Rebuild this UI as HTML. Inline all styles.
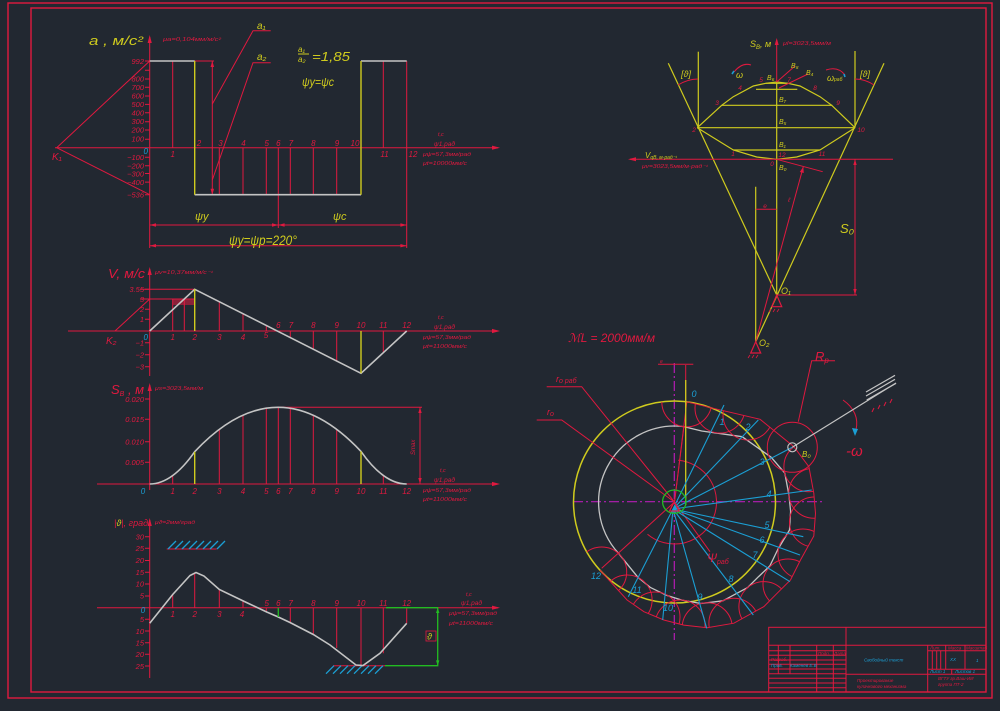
<!DOCTYPE html>
<html><head><meta charset="utf-8">
<style>
html,body{margin:0;padding:0;background:#222831;}
svg{display:block;}
text{font-family:"Liberation Sans",sans-serif;font-style:italic;}
</style></head><body>
<svg width="1000" height="711" viewBox="0 0 1000 711" xmlns="http://www.w3.org/2000/svg">
<defs>
<clipPath id="cp"><path d="M686.8,401.8 L710.7,407.7 760.1,419.3 793.8,446.6 808.9,466.7 813.8,493.2 815.5,513.3 813.8,536 800.5,560 790.5,580 777.2,593.2 763.9,606.6 733.9,623.2 707.2,627.7 683.8,625.1 663.8,620 643.9,611.7 627.1,600 600,570.2 A101,101 0 0 1 686.8,401.8Z"/></clipPath>
</defs>
<rect width="1000" height="711" fill="#222831"/>

<!-- FRAME -->
<g fill="none" stroke="#e0193f" stroke-width="1.4">
<rect x="8" y="3" width="984" height="695"/>
<rect x="31" y="8" width="955" height="684"/>
</g>

<!-- ============ GRAPH 1 : acceleration ============ -->
<g stroke="#e0193f" stroke-width="1" fill="none">
<line x1="55" y1="147.7" x2="498" y2="147.7"/>
<line x1="149.7" y1="37" x2="149.7" y2="248"/>
<path d="M145,61H149.7M145,70.3H149.7M145,79H149.7M145,87.3H149.7M145,96H149.7M145,104.4H149.7M145,112.7H149.7M145,121.7H149.7M145,130H149.7M145,139.3H149.7M145,157.3H149.7M145,165.7H149.7M145,173.5H149.7M145,182.1H149.7M145,194.7H149.7"/>
<path d="M172.7,61V147.7M383.3,61V147.7M406.7,61V248M219.3,147.7V194.7M243,147.7V194.7M266.3,147.7V194.7M290.3,147.7V194.7M313.3,147.7V194.7M336.7,147.7V194.7M278.3,147.7V228"/>
<path d="M194.7,61H214M212.3,61V194.7"/>
<polyline points="270.7,30.7 253,30.7 212.3,104"/>
<polyline points="270.7,62.7 253,62.7 212.3,180"/>
<path d="M56.7,147.7L149.7,61M56.7,147.7L149.7,194.7"/>
<path d="M149.7,225H406.7M149.7,245.7H406.7"/>
</g>
<g fill="#e0193f">
<polygon points="500,147.7 492,145.6 492,149.8"/>
<polygon points="149.7,35 147.6,43 151.8,43"/>
<polygon points="212.3,61 210.5,67 214.1,67"/>
<polygon points="212.3,194.7 210.5,188.7 214.1,188.7"/>
<polygon points="149.7,225 156,223.3 156,226.7"/>
<polygon points="278.3,225 272,223.3 272,226.7"/>
<polygon points="278.3,225 284.6,223.3 284.6,226.7"/>
<polygon points="406.7,225 400.4,223.3 400.4,226.7"/>
<polygon points="149.7,245.7 156,244 156,247.4"/>
<polygon points="406.7,245.7 400.4,244 400.4,247.4"/>
</g>
<g stroke="#c4c4c4" stroke-width="1.6" fill="none">
<path d="M149.7,61H194.7M194.7,194.7H361M361,61H406.7"/>
</g>
<g stroke="#cfcb1e" stroke-width="1.4" fill="none">
<path d="M194.7,61V194.7M361,61V194.7"/>
</g>
<g fill="#e0193f" font-size="7.5" text-anchor="end">
<text x="144" y="64">992</text>
<text x="144" y="81.5">800</text>
<text x="144" y="90">700</text>
<text x="144" y="98.5">600</text>
<text x="144" y="107">500</text>
<text x="144" y="115.5">400</text>
<text x="144" y="124">300</text>
<text x="144" y="132.5">200</text>
<text x="144" y="141.5">100</text>
<text x="144" y="160">−100</text>
<text x="144" y="168.5">−200</text>
<text x="144" y="176.5">−300</text>
<text x="144" y="185">−400</text>
<text x="144" y="197.5">−536</text>
</g>
<g fill="#e0193f" font-size="8" text-anchor="middle">
<text x="172.7" y="157">1</text>
<text x="199" y="146">2</text>
<text x="220.5" y="146">3</text>
<text x="243.5" y="146">4</text>
<text x="266.7" y="146">5</text>
<text x="278.3" y="146">6</text>
<text x="291" y="146">7</text>
<text x="313.3" y="146">8</text>
<text x="337" y="146">9</text>
<text x="355" y="146">10</text>
<text x="384.5" y="157">11</text>
<text x="413" y="157">12</text>
</g>
<text x="145.7" y="154" fill="#1b9fd4" font-size="8" text-anchor="middle">0</text>
<text x="89" y="45" fill="#cfcb1e" font-size="13" textLength="54" lengthAdjust="spacingAndGlyphs">a ,  м/с²</text>
<text x="163" y="41" fill="#e0193f" font-size="5" textLength="58" lengthAdjust="spacingAndGlyphs">μa=0,104мм/м/с²</text>
<text x="257" y="29" fill="#cfcb1e" font-size="10">a₁</text>
<text x="257" y="60" fill="#cfcb1e" font-size="10">a₂</text>
<text x="298" y="52" fill="#cfcb1e" font-size="8">a₁</text>
<line x1="298" y1="54" x2="309" y2="54" stroke="#cfcb1e" stroke-width="1"/>
<text x="298" y="62" fill="#cfcb1e" font-size="8">a₂</text>
<text x="312" y="61" fill="#cfcb1e" font-size="13" textLength="38" lengthAdjust="spacingAndGlyphs">=1,85</text>
<text x="302" y="86" fill="#cfcb1e" font-size="12" textLength="32" lengthAdjust="spacingAndGlyphs">ψу=ψс</text>
<text x="52" y="160" fill="#e0193f" font-size="10">K₁</text>
<text x="195" y="220" fill="#cfcb1e" font-size="11">ψу</text>
<text x="333" y="220" fill="#cfcb1e" font-size="11">ψс</text>
<text x="229" y="245" fill="#cfcb1e" font-size="14" textLength="68" lengthAdjust="spacingAndGlyphs">ψу=ψр=220°</text>
<g fill="#e0193f" font-size="5.5">
<text x="438" y="136">t,c</text>
<text x="434" y="146" font-size="6.5">ψ1,рад</text>
<text x="423" y="156" textLength="48" lengthAdjust="spacingAndGlyphs">μψ=57,3мм/рад</text>
<text x="423" y="165" textLength="44" lengthAdjust="spacingAndGlyphs">μt=10000мм/с</text>
</g>

<!-- ============ GRAPH 2 : velocity ============ -->
<g stroke="#e0193f" stroke-width="1" fill="none">
<line x1="68" y1="331" x2="498" y2="331"/>
<line x1="149.7" y1="269" x2="149.7" y2="376"/>
<path d="M145,289.3H149.7M145,299H149.7M145,309.3H149.7M145,319.3H149.7M145,342.7H149.7M145,354.7H149.7M145,366.7H149.7"/>
<path d="M140,289.3H194.7M140,299H194.7"/>
<path d="M172.7,299V331M184.3,299V331M219.3,331V301.7M243,331V313.7M266.3,331V325.5M290.3,331V337.6M313.3,331V349.2M336.7,331V361M383.3,331V352.7"/>
<line x1="115" y1="331" x2="149.7" y2="299"/>
</g>
<rect x="172.7" y="299" width="22" height="6" fill="#e0193f" opacity="0.55"/>
<g fill="#e0193f">
<polygon points="500,331 492,328.9 492,333.1"/>
<polygon points="149.7,267 147.6,275 151.8,275"/>
</g>
<polyline points="149.7,331 194.7,289.3 361,373.3 406.7,331" fill="none" stroke="#c4c4c4" stroke-width="1.6"/>
<path d="M194.7,289.3V331M361,331V373.3" stroke="#cfcb1e" stroke-width="1.4"/>
<g fill="#e0193f" font-size="7.5" text-anchor="end">
<text x="144" y="292">3.55</text>
<text x="144" y="302">3</text>
<text x="144" y="312">2</text>
<text x="144" y="322">1</text>
<text x="144" y="345.5">−1</text>
<text x="144" y="357.5">−2</text>
<text x="144" y="369.5">−3</text>
</g>
<g fill="#e0193f" font-size="8" text-anchor="middle">
<text x="172.7" y="340">1</text>
<text x="194.7" y="340">2</text>
<text x="219.3" y="340">3</text>
<text x="243" y="340">4</text>
<text x="266" y="338">5</text>
<text x="278.3" y="328">6</text>
<text x="291" y="328">7</text>
<text x="313.3" y="328">8</text>
<text x="336.7" y="328">9</text>
<text x="361" y="328">10</text>
<text x="383.3" y="328">11</text>
<text x="406.7" y="328">12</text>
</g>
<text x="145.7" y="340" fill="#1b9fd4" font-size="8" text-anchor="middle">0</text>
<text x="108" y="278" fill="#e0193f" font-size="13" textLength="37" lengthAdjust="spacingAndGlyphs">V, м/с</text>
<text x="155" y="274" fill="#e0193f" font-size="5" textLength="58" lengthAdjust="spacingAndGlyphs">μv=10,37мм/м/с⁻¹</text>
<text x="106" y="344" fill="#e0193f" font-size="10">K₂</text>
<g fill="#e0193f" font-size="5.5">
<text x="438" y="319">t,c</text>
<text x="434" y="329" font-size="6.5">ψ1,рад</text>
<text x="423" y="339" textLength="48" lengthAdjust="spacingAndGlyphs">μψ=57,3мм/рад</text>
<text x="423" y="348" textLength="44" lengthAdjust="spacingAndGlyphs">μt=11000мм/с</text>
</g>

<!-- ============ GRAPH 3 : displacement ============ -->
<g stroke="#e0193f" stroke-width="1" fill="none">
<line x1="97" y1="484" x2="498" y2="484"/>
<line x1="149.7" y1="385" x2="149.7" y2="490"/>
<path d="M145,399H149.7M145,419.3H149.7M145,441.7H149.7M145,462.3H149.7"/>
<path d="M172.7,484V475.6M219.3,484V429.3M243,484V415.1M266.3,484V408.1M278.3,484V407.3M290.3,484V408.2M313.3,484V415.1M336.7,484V429.6M383.3,484V475.5"/>
<path d="M278.3,407.3H422M420,407.3V484"/>
</g>
<g fill="#e0193f">
<polygon points="500,484 492,481.9 492,486.1"/>
<polygon points="149.7,383 147.6,391 151.8,391"/>
<polygon points="420,407.3 418.3,413 421.7,413"/>
<polygon points="420,484 418.3,478 421.7,478"/>
</g>
<path d="M149.7,484 Q172.2,484 194.7,451.7 Q236.35,407.3 278,407.3 Q319.5,407.3 361,451.4 Q383.85,484 406.7,484" fill="none" stroke="#c4c4c4" stroke-width="1.6"/>
<path d="M194.7,484V451.7M361,484V451.4" stroke="#cfcb1e" stroke-width="1.4"/>
<g fill="#e0193f" font-size="7.5" text-anchor="end">
<text x="144" y="402">0.020</text>
<text x="144" y="422">0.015</text>
<text x="144" y="444.5">0.010</text>
<text x="144" y="465">0.005</text>
</g>
<g fill="#e0193f" font-size="8" text-anchor="middle">
<text x="172.7" y="494">1</text>
<text x="194.7" y="494">2</text>
<text x="219.3" y="494">3</text>
<text x="243" y="494">4</text>
<text x="266.3" y="494">5</text>
<text x="278.3" y="494">6</text>
<text x="290.3" y="494">7</text>
<text x="313.3" y="494">8</text>
<text x="336.7" y="494">9</text>
<text x="361" y="494">10</text>
<text x="383.3" y="494">11</text>
<text x="406.7" y="494">12</text>
</g>
<text x="143" y="494" fill="#1b9fd4" font-size="8" text-anchor="middle">0</text>
<text x="111" y="394" fill="#e0193f" font-size="13">S<tspan font-size="7" dy="2">B</tspan><tspan dy="-2"> , м</tspan></text>
<text x="155" y="390" fill="#e0193f" font-size="5" textLength="48" lengthAdjust="spacingAndGlyphs">μs=3023,5мм/м</text>
<text x="415" y="455" fill="#e0193f" font-size="6" transform="rotate(-90 415 455)">Smax</text>
<g fill="#e0193f" font-size="5.5">
<text x="440" y="472">t,c</text>
<text x="434" y="482" font-size="6.5">ψ1,рад</text>
<text x="423" y="492" textLength="48" lengthAdjust="spacingAndGlyphs">μψ=57,3мм/рад</text>
<text x="423" y="501" textLength="44" lengthAdjust="spacingAndGlyphs">μt=11000мм/с</text>
</g>

<!-- ============ GRAPH 4 : pressure angle ============ -->
<g stroke="#e0193f" stroke-width="1" fill="none">
<line x1="97" y1="607.7" x2="498" y2="607.7"/>
<line x1="149.7" y1="520" x2="149.7" y2="678"/>
<path d="M145,536.7H149.7M145,548.3H149.7M145,560.5H149.7M145,572.3H149.7M145,584H149.7M145,596H149.7M145,619.3H149.7M145,631H149.7M145,642.7H149.7M145,654.3H149.7M145,666H149.7"/>
<path d="M172.7,607.7V594.5M194.7,607.7V572.7M219.3,607.7V589.5M243,607.7V601M266.3,607.7V612M290.3,607.7V622.5M313.3,607.7V634.5M336.7,607.7V648M361,607.7V665.7M383.3,607.7V653.3M406.7,607.7V623.3"/>
<path d="M166.7,549H216.7M333,665.7H385"/>
</g>
<g stroke="#1b9fd4" stroke-width="1.3">
<path d="M168,549l8,-8M175,549l8,-8M182,549l8,-8M189,549l8,-8M196,549l8,-8M203,549l8,-8M210,549l8,-8M217,549l8,-8"/>
<path d="M334,665.7l-8,8M341,665.7l-8,8M348,665.7l-8,8M355,665.7l-8,8M362,665.7l-8,8M369,665.7l-8,8M376,665.7l-8,8M383,665.7l-8,8"/>
</g>
<g fill="#e0193f">
<polygon points="500,607.7 492,605.6 492,609.8"/>
<polygon points="149.7,518 147.6,526 151.8,526"/>
</g>
<polyline points="149.7,623.3 172.7,594.5 190,575.5 196,572.5 204,576 219.3,589.5 243.3,601 266.7,612 278.3,617 290,622.5 313.3,634.5 330,645 356,665 363,665.5 380,653.3 406.7,623.3" fill="none" stroke="#c4c4c4" stroke-width="1.6"/>
<g stroke="#22bb22" stroke-width="1.3" fill="none">
<path d="M278.3,607.7V617M386,607.7H437.7V665.7H385"/>
</g>
<g fill="#22bb22">
<polygon points="437.7,607.7 436,613 439.4,613"/>
<polygon points="437.7,665.7 436,660.4 439.4,660.4"/>
</g>
<rect x="426" y="631" width="10" height="10" fill="none" stroke="#e0193f" stroke-width="0.8"/>
<text x="427" y="639.5" fill="#cfcb1e" font-size="9">ϑ</text>
<g fill="#e0193f" font-size="7.5" text-anchor="end">
<text x="144" y="539.5">30</text>
<text x="144" y="551">25</text>
<text x="144" y="563">20</text>
<text x="144" y="575">15</text>
<text x="144" y="586.5">10</text>
<text x="144" y="598.5">5</text>
<text x="144" y="622">5</text>
<text x="144" y="634">10</text>
<text x="144" y="645.5">15</text>
<text x="144" y="657">20</text>
<text x="144" y="669">25</text>
</g>
<text x="143" y="613" fill="#1b9fd4" font-size="8" text-anchor="middle">0</text>
<g fill="#e0193f" font-size="8" text-anchor="middle">
<text x="172.7" y="617">1</text>
<text x="194.7" y="617">2</text>
<text x="219.3" y="617">3</text>
<text x="242" y="617">4</text>
<text x="266.7" y="606">5</text>
<text x="278.3" y="606">6</text>
<text x="290.7" y="606">7</text>
<text x="313.3" y="606">8</text>
<text x="336.7" y="606">9</text>
<text x="361" y="606">10</text>
<text x="383.3" y="606">11</text>
<text x="406.7" y="606">12</text>
</g>
<text x="114" y="526" fill="#e0193f" font-size="9">|<tspan fill="#cfcb1e">ϑ</tspan>|, град</text>
<text x="155" y="524" fill="#e0193f" font-size="5" textLength="40" lengthAdjust="spacingAndGlyphs">μϑ=2мм/град</text>
<g fill="#e0193f" font-size="5.5">
<text x="466" y="596">t,c</text>
<text x="461" y="605" font-size="6.5">ψ1,рад</text>
<text x="449" y="615" textLength="48" lengthAdjust="spacingAndGlyphs">μψ=57,3мм/рад</text>
<text x="449" y="625" textLength="44" lengthAdjust="spacingAndGlyphs">μt=11000мм/с</text>
</g>

<!-- ============ MECHANISM (top right) ============ -->
<g stroke="#cfcb1e" stroke-width="1.2" fill="none">
<line x1="776.7" y1="82" x2="776.7" y2="295"/>
<line x1="668.3" y1="63.3" x2="776.7" y2="295"/>
<line x1="884" y1="63.3" x2="755.7" y2="341.7"/>
<line x1="698.3" y1="51.7" x2="698.3" y2="127.7"/>
<line x1="855" y1="51" x2="855" y2="127.7"/>
<line x1="755.7" y1="186.7" x2="755.7" y2="341.7"/>
<path d="M697.3,127.7H855M721.7,105.3H832.3M733.3,150H820M756,89.3H797.3M765.7,83.3H787.7"/>
<polyline points="697.3,127.7 721.7,105.3 733.3,96.7 753.3,86 765.7,83.3 776.7,82 788,83.3 800,86 820,96.7 831.7,105.3 855,127.7"/>
<polyline points="697.3,127.7 733.3,150 756.7,157 776.7,159.3 796.7,157 820,150 855,127.7"/>
</g>
<g stroke="#e0193f" stroke-width="1" fill="none">
<line x1="776.7" y1="40" x2="776.7" y2="82"/>
<line x1="630" y1="159.3" x2="893" y2="159.3"/>
<path d="M776.7,295H857M855,159.3V295"/>
<line x1="755.7" y1="341.7" x2="803.3" y2="166.7"/>
<line x1="776.7" y1="159.3" x2="822.7" y2="171.7"/>
<path d="M755.7,209.3H776.7"/>
<path d="M776.7,82L795,66M779,88L808,74"/>
<path d="M678,85Q688,79 698,79M855,79Q865,79 874,85"/>
<path d="M734,72Q742,62 751,65M826,70Q838,66 845,75"/>
</g>
<g fill="#e0193f">
<polygon points="776.7,38 774.7,45 778.7,45"/>
<polygon points="628,159.3 636,157.3 636,161.3"/>
<polygon points="855,159.3 853.3,165 856.7,165"/>
<polygon points="855,295 853.3,289 856.7,289"/>
<polygon points="803.3,166.7 799.8,172 803.8,173"/>
<polygon points="776.7,295 771.7,306.7 781.7,306.7" fill="none" stroke="#e0193f" stroke-width="1.2"/>
<polygon points="755.7,341.7 750.7,353 760.7,353" fill="none" stroke="#e0193f" stroke-width="1.2"/>
</g>
<path d="M771,309l-2,3M775,309l-2,3M779,309l-2,3M750,355l-2,3M754,355l-2,3M758,355l-2,3" stroke="#e0193f" stroke-width="0.8"/>
<path d="M734,71l-2,3M844,74l1,3" stroke="#1b9fd4" stroke-width="1.6"/>
<g fill="#cfcb1e">
<text x="750" y="47" font-size="9">S<tspan font-size="6" dy="2">B</tspan><tspan dy="-2">, м</tspan></text>
<text x="645" y="158" font-size="8">V<tspan font-size="5" dy="1">qB, м·рад⁻¹</tspan></text>
<text x="767" y="80" font-size="7">B₆</text>
<text x="791" y="68" font-size="7">B₈</text>
<text x="806" y="75" font-size="7">B₄</text>
<text x="779" y="102" font-size="7">B₇</text>
<text x="779" y="124" font-size="7">B₅</text>
<text x="779" y="147" font-size="7">B₁</text>
<text x="779" y="170" font-size="7">B₀</text>
<text x="681" y="77" font-size="9">[ϑ]</text>
<text x="860" y="77" font-size="9">[ϑ]</text>
<text x="736" y="78" font-size="9">ω</text>
<text x="827" y="81" font-size="9">ω<tspan font-size="5">раб</tspan></text>
<text x="781" y="294" font-size="9">O₁</text>
<text x="759" y="346" font-size="9">O₂</text>
<text x="840" y="233" font-size="13">S₀</text>
</g>
<g fill="#e0193f" font-size="6.5" text-anchor="middle">
<text x="761" y="82">5</text>
<text x="789" y="82">7</text>
<text x="740" y="90">4</text>
<text x="815" y="90">8</text>
<text x="717" y="105">3</text>
<text x="838" y="105">9</text>
<text x="694" y="132">2</text>
<text x="861" y="132">10</text>
<text x="733" y="156">1</text>
<text x="822" y="156">11</text>
<text x="782" y="157">12</text>
<text x="772" y="166">0</text>
<text x="765" y="208">e</text>
<text x="789" y="202">ℓ</text>
</g>
<text x="783" y="45" fill="#e0193f" font-size="5" textLength="48" lengthAdjust="spacingAndGlyphs">μl=3023,5мм/м</text>
<text x="642" y="168" fill="#e0193f" font-size="5" textLength="66" lengthAdjust="spacingAndGlyphs">μv=3023,5мм/м·рад⁻¹</text>

<!-- ============ CAM ============ -->
<text x="568" y="342" fill="#e0193f" font-size="12" textLength="87" lengthAdjust="spacingAndGlyphs">ℳL = 2000мм/м</text>
<g stroke="#b51cb5" stroke-width="1.2" stroke-dasharray="10 3 2 3" fill="none">
<line x1="573" y1="501.7" x2="823" y2="501.7"/>
<line x1="674.3" y1="363" x2="674.3" y2="640"/>
</g>
<circle cx="674.5" cy="502" r="101" fill="none" stroke="#cfcb1e" stroke-width="1.5"/>
<path d="M683.8,426.6 L701.7,431 742.1,436.7 771.1,457.2 784.8,473.1 788.9,494.8 790.6,511.3 789.5,530 777.8,549.5 769.8,566 758.6,576.6 747.6,587.6 722.9,600.8 700.9,603.5 681.9,600.1 666,595.1 650.6,587.6 638,577.4 618.5,553.3 A76,76 0 0 1 683.8,426.6" fill="none" stroke="#c4c4c4" stroke-width="1.3" stroke-linejoin="round"/>
<g stroke="#e0193f" stroke-width="1" fill="none">
<polyline points="686.8,401.8 710.7,407.7 760.1,419.3 793.8,446.6 808.9,466.7 813.8,493.2 815.5,513.3 813.8,536 800.5,560 790.5,580 777.2,593.2 763.9,606.6 733.9,623.2 707.2,627.7 683.8,625.1 663.8,620 643.9,611.7 627.1,600 600,570.2"/>
<g clip-path="url(#cp)">
<circle cx="686.8" cy="401.8" r="25"/>
<circle cx="720" cy="408" r="25"/>
<circle cx="748" cy="415" r="25"/>
<circle cx="808.9" cy="466.7" r="25"/>
<circle cx="813.8" cy="493.2" r="25"/>
<circle cx="814.5" cy="522" r="25"/>
<circle cx="803" cy="554" r="25"/>
<circle cx="788" cy="584" r="25"/>
<circle cx="763.9" cy="606.6" r="25"/>
<circle cx="733.9" cy="623.2" r="25"/>
<circle cx="707.2" cy="627.7" r="25"/>
<circle cx="680" cy="625" r="25"/>
<circle cx="655" cy="617" r="25"/>
<circle cx="627.1" cy="600" r="25"/>
<circle cx="601.7" cy="572" r="25"/>
</g>
<circle cx="792.3" cy="447.3" r="25"/>
<path d="M678.2,460.2 A42,42 0 1 1 647.5,534.2"/>
<line x1="674.5" y1="502" x2="686.8" y2="401.8"/>
<line x1="674.5" y1="502" x2="684" y2="426"/>
<line x1="674.5" y1="502" x2="601.7" y2="568.3"/>
<line x1="674.5" y1="502" x2="710" y2="551.7"/>
<line x1="685.7" y1="365" x2="685.7" y2="401.7"/>
<path d="M658,364.3H693.3"/>
<polyline points="546.7,386.7 581.7,386.7 674.5,502"/>
<polyline points="536.7,420 561.7,420 674.5,502"/>
<polyline points="835,360.7 811.7,360.7 798.3,421.7"/>
<path d="M843,400Q860,412 856,430"/>
<path d="M874,408l-2,4M880,405l-2,4M886,402l-2,4M892,399l-2,4"/>
</g>
<line x1="685.7" y1="380" x2="685.7" y2="505" stroke="#cfcb1e" stroke-width="1.3"/>
<g stroke="#1b9fd4" stroke-width="1.1">
<path d="M673,509L724,405M673,509L758.3,420M673,509L792.3,447.3M673,509L811.7,490M673,509L803.3,536.7M673,509L800,555M673,509L790,581.7M673,509L753.3,615M673,509L706.7,628.3M673,509L662.7,620M673,509L628.3,596.7"/>
</g>
<circle cx="674.3" cy="501.7" r="11.7" fill="none" stroke="#22bb22" stroke-width="1.3"/>
<polygon points="674.3,501.7 669.5,511 679.1,511" fill="none" stroke="#e0193f" stroke-width="1.3"/>
<g stroke="#c4c4c4" stroke-width="1.2" fill="none">
<line x1="792.3" y1="447.3" x2="896" y2="383"/>
<circle cx="792.3" cy="447.3" r="4.5"/>
<line x1="866.7" y1="400" x2="896" y2="383.3"/>
<line x1="866" y1="396" x2="895" y2="379.3"/>
<line x1="866" y1="392" x2="895" y2="375.3"/>
</g>
<polygon points="855,436 852,428 858,429" fill="#1b9fd4"/>
<g fill="#1b9fd4" font-size="9" text-anchor="middle">
<text x="694" y="397">0</text>
<text x="722" y="425">1</text>
<text x="748" y="430">2</text>
<text x="762" y="465">3</text>
<text x="769" y="497">4</text>
<text x="767" y="528">5</text>
<text x="762" y="543">6</text>
<text x="755" y="558">7</text>
<text x="731" y="582">8</text>
<text x="700" y="600">9</text>
<text x="668" y="611">10</text>
<text x="637" y="593">11</text>
<text x="596" y="579">12</text>
</g>
<text x="802" y="457" fill="#cfcb1e" font-size="8">B₀</text>
<text x="846" y="456" fill="#e0193f" font-size="15">-ω</text>
<text x="815" y="361" fill="#e0193f" font-size="13">R<tspan font-size="8" dy="2">р</tspan></text>
<text x="556" y="382" fill="#e0193f" font-size="9">r<tspan font-size="7" dy="1">o раб</tspan></text>
<text x="547" y="415" fill="#e0193f" font-size="9">r<tspan font-size="7" dy="1">o</tspan></text>
<text x="707" y="562" fill="#e0193f" font-size="12">Ψ<tspan font-size="7" dy="2">раб</tspan></text>
<text x="660" y="363" fill="#e0193f" font-size="5">e</text>

<!-- ============ TITLE BLOCK ============ -->
<g stroke="#e0193f" stroke-width="1" fill="none">
<rect x="768.7" y="627.3" width="217.3" height="64.7"/>
<path d="M768.7,645.3H986M846,627.3V692"/>
<path d="M768.7,650.7H846M768.7,655.3H846M768.7,660H846M768.7,664.3H846M768.7,669H846M768.7,673.7H846M768.7,678.3H846M768.7,683H846M768.7,687.7H846"/>
<path d="M778.3,645.3V673.7M790,645.3V673.7M816.7,645.3V692M833.3,645.3V692"/>
<path d="M846,674.3H986M927.7,650.7H986M927.7,669.3H986"/>
<path d="M927.7,645.3V692M932.3,650.7V669.3M936.7,650.7V669.3M940.7,650.7V669.3M945.7,645.3V669.3M965,645.3V669.3M951.7,669.3V674.3"/>
</g>
<g font-size="4.5">
<text x="771" y="661" fill="#e0193f">Разраб.</text>
<text x="771" y="667" fill="#1b9fd4">Пров.</text>
<text x="790" y="667" fill="#1b9fd4">Каменев Е.В</text>
<text x="818" y="655" fill="#e0193f">Подп.</text>
<text x="834" y="655" fill="#e0193f">Дата</text>
<text x="864" y="661.5" fill="#1b9fd4">Свободный текст</text>
<text x="857" y="682" fill="#e0193f">Проектирование</text>
<text x="857" y="688" fill="#e0193f">кулачкового механизма</text>
<text x="930" y="649.5" fill="#e0193f">Лит.</text>
<text x="948" y="649.5" fill="#e0193f">Масса</text>
<text x="966" y="649.5" fill="#e0193f">Масштаб</text>
<text x="950" y="661" fill="#1b9fd4">ХХ</text>
<text x="976" y="662" fill="#1b9fd4">1</text>
<text x="930" y="673" fill="#1b9fd4">Лист 1</text>
<text x="955" y="673" fill="#1b9fd4">Листов 1</text>
<text x="938" y="680" fill="#e0193f">ВГТУ гр.Ваш-ИИ</text>
<text x="938" y="686" fill="#e0193f">группа ПТ-2</text>
</g>
</svg>
</body></html>
